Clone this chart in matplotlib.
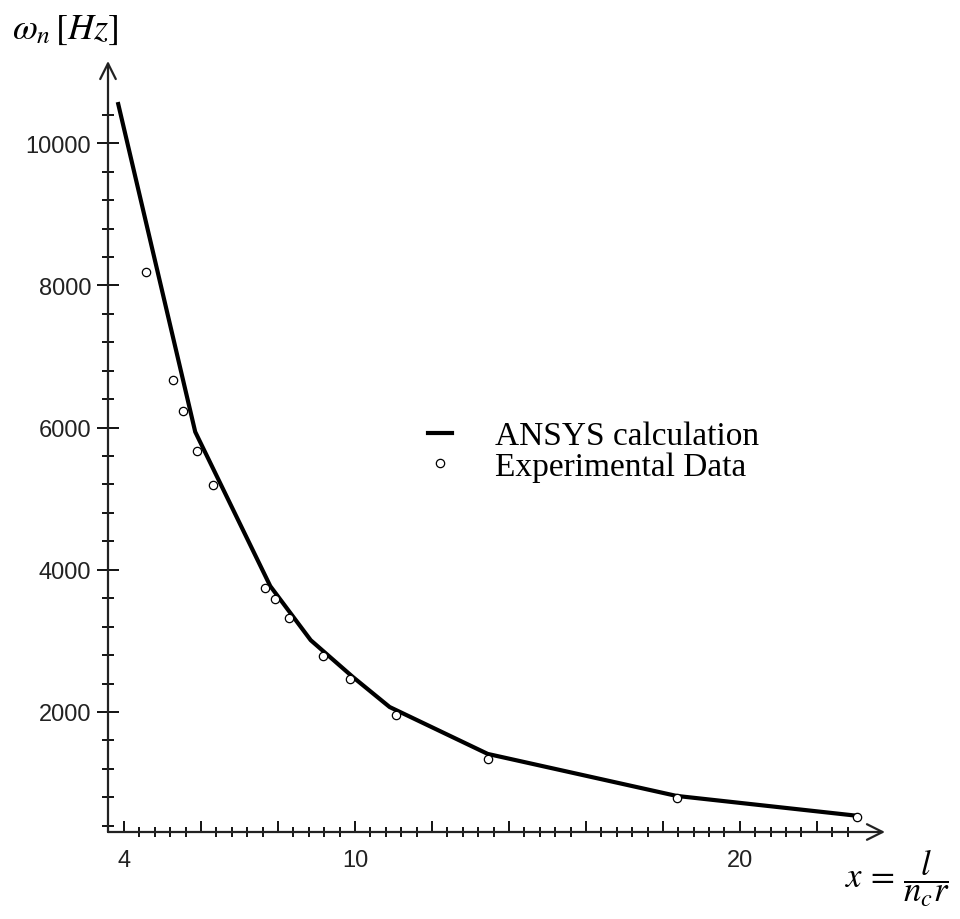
import numpy as np
import matplotlib
matplotlib.use('Agg')
import matplotlib.pyplot as plt
from matplotlib.ticker import FixedLocator, FuncFormatter

# ANSYS curve (piecewise linear in the original)
ansys_x = [3.85, 5.85, 7.8, 8.85, 9.95, 10.9, 13.45, 18.35, 23.05]
ansys_y = [10550, 5940, 3770, 3010, 2490, 2070, 1410, 820, 540]

# measured points
exp_x = [4.57, 5.27, 5.53, 5.90, 6.31, 7.66, 7.92, 8.29, 9.17, 9.87, 11.06, 13.45, 18.36, 23.04]
exp_y = [8190, 6670, 6230, 5670, 5190, 3740, 3590, 3320, 2790, 2460, 1960, 1340, 790, 525]

x_labelled = [4, 10, 20]
y_labelled = [2000, 4000, 6000, 8000, 10000]

plt.rcParams['mathtext.fontset'] = 'stix'

fig = plt.figure(figsize=(9.6, 9.2), dpi=100)
ax = fig.add_axes([108 / 960, 87 / 920, (885 - 108) / 960, (833 - 62) / 920])

ax.plot(ansys_x, ansys_y, color='black', lw=3.0, solid_joinstyle='miter',
        label='ANSYS calculation')
ax.plot(exp_x, exp_y, 'o', ls='none', mfc='white', mec='black', ms=6, mew=0.9,
        label='Experimental Data')

ax.set_xlim(3.584, 23.77)
ax.set_ylim(312, 11156)

# mathcad style ticks
ax.xaxis.set_major_locator(FixedLocator([4] + list(range(6, 24, 2))))
ax.xaxis.set_minor_locator(FixedLocator(np.arange(4.0, 22.9, 0.4)))
ax.xaxis.set_major_formatter(FuncFormatter(lambda v, p: '%d' % v if round(v) in x_labelled else ''))
ax.yaxis.set_major_locator(FixedLocator(y_labelled))
ax.yaxis.set_minor_locator(FixedLocator(np.arange(400, 10500, 400)))

ax.tick_params(axis='x', which='major', direction='in', length=8, width=1.3,
               pad=12, labelsize=17)
ax.tick_params(axis='x', which='minor', direction='inout', length=7, width=1.3)
ax.tick_params(axis='y', which='major', direction='inout', length=16, width=1.3,
               pad=4, labelsize=17)
ax.tick_params(axis='y', which='minor', direction='inout', length=8, width=1.3)
for lab in ax.get_xticklabels() + ax.get_yticklabels():
    lab.set_fontfamily('Liberation Sans')
    lab.set_color('#222222')

for s in ax.spines.values():
    s.set_visible(False)
arrow = dict(arrowstyle='->', lw=1.6, color='#222222', shrinkA=0, shrinkB=0,
             mutation_scale=28)
ax.annotate('', xy=(0, 1), xytext=(0, 0), xycoords='axes fraction', arrowprops=arrow)
ax.annotate('', xy=(1, 0), xytext=(0, 0), xycoords='axes fraction', arrowprops=arrow)

ax.legend(loc='upper left', bbox_to_anchor=(428 / 960, 1 - 422 / 920),
          bbox_transform=fig.transFigure, frameon=False, borderpad=0,
          borderaxespad=0, handlelength=0.72, handletextpad=1.3,
          labelspacing=0.0, prop={'family': 'Liberation Serif', 'size': 24})

fig.text(12 / 960, 1 - 30 / 920, r'$\omega_n\,\left[Hz\right]$', fontsize=26,
         ha='left', va='center')
fig.text(845 / 960, 1 - 878 / 920, r'$x\,=\,\dfrac{l}{n_c r}$', fontsize=25,
         ha='left', va='center')

fig.savefig('out.png', dpi=100, facecolor='white')
